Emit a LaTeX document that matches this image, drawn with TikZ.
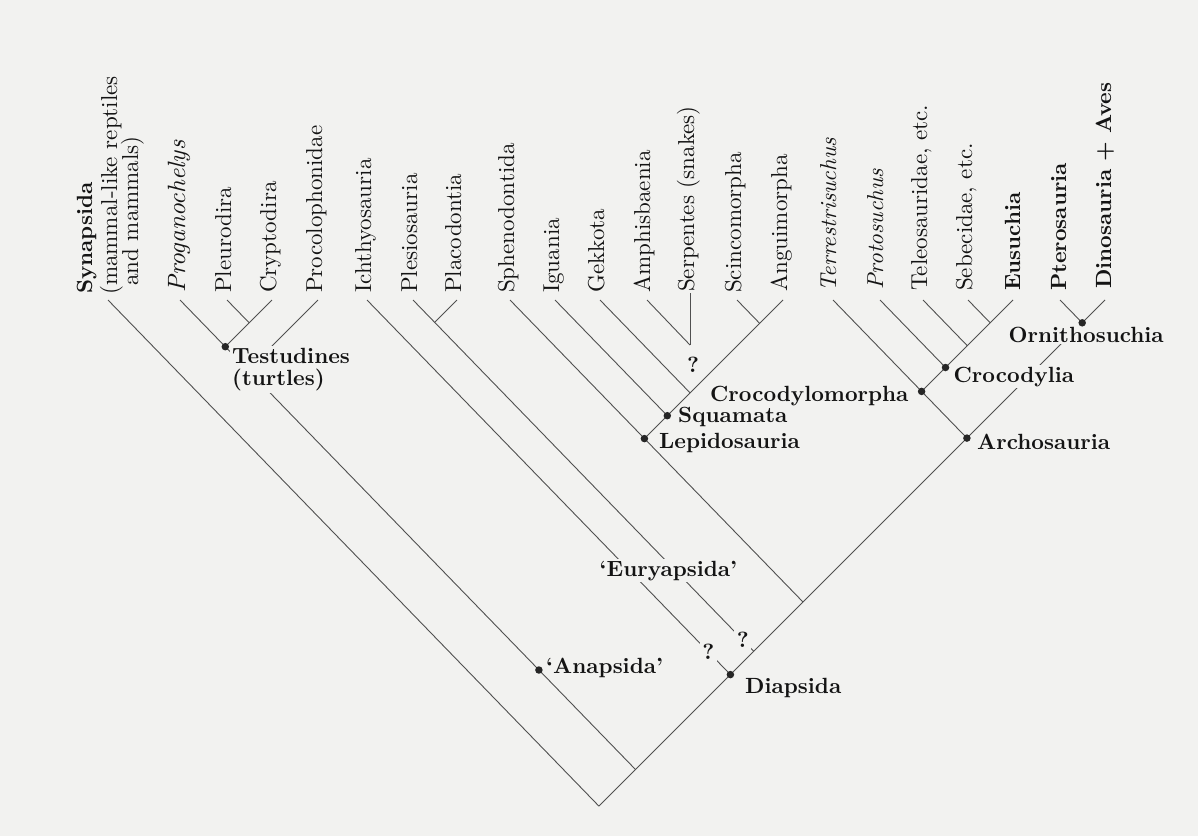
\documentclass[tikz,border=0pt]{standalone}
\usepackage{fontspec}
\setmainfont{lmroman10}[Extension=.otf, UprightFont=*-regular, BoldFont=*-bold, ItalicFont=*-italic, BoldItalicFont=*-bolditalic]
\definecolor{bg}{RGB}{242,242,240}
\definecolor{ln}{RGB}{80,80,80}
\definecolor{tx}{RGB}{20,20,20}
\tikzset{
  edge/.style={draw=ln, line width=0.9pt},
  tiplab/.style={rotate=90, anchor=base west, inner sep=0pt, text=tx, font=\fontsize{23}{25}\selectfont},
  tipbold/.style={tiplab, font=\fontsize{22}{24}\selectfont\bfseries},
  tipital/.style={tiplab, font=\fontsize{23}{25}\selectfont\itshape},
  clab/.style={anchor=base west, inner sep=0pt, text=tx, font=\fontsize{22}{22}\selectfont\bfseries},
  clabfill/.style={clab, fill=bg, inner sep=1.5pt},
  qmark/.style={text=tx, font=\fontsize{22}{22}\selectfont\bfseries, fill=bg, inner sep=2.5pt},
  cdot/.style={circle, fill=black!85, inner sep=0pt, minimum size=7.5pt}
}
\begin{document}
\begin{tikzpicture}[x=1pt,y=-1pt]
\fill[bg] (0,0) rectangle (1198,836);
\useasboundingbox (0,0) rectangle (1198,836);

% tips (line tops)
\coordinate (tSyn) at (108,300);
\coordinate (tProg) at (180,300);
\coordinate (tPleu) at (227,300);
\coordinate (tCryp) at (272,300);
\coordinate (tProc) at (318,300);
\coordinate (tIch) at (367,300);
\coordinate (tPle) at (413,300);
\coordinate (tPla) at (457,300);
\coordinate (tSph) at (510,300);
\coordinate (tIgu) at (555,300);
\coordinate (tGek) at (600,300);
\coordinate (tAmp) at (647,300);
\coordinate (tSer) at (690,293);
\coordinate (tSci) at (737,300);
\coordinate (tAng) at (783,300);
\coordinate (tTer) at (833,300);
\coordinate (tPro) at (880,300);
\coordinate (tTel) at (923,300);
\coordinate (tSeb) at (968,300);
\coordinate (tEus) at (1013,300);
\coordinate (tPte) at (1060,300);
\coordinate (tDin) at (1105,300);

% internal nodes
\coordinate (nPC) at (249.2,322.8);
\coordinate (nTes) at (225.3,346.7);
\coordinate (nAna) at (247.95,370.05);
\coordinate (nAnaDot) at (538.9,670);
\coordinate (nPP) at (434.7,322.3);
\coordinate (nSer) at (690,345);
\coordinate (nSA) at (759.65,323.35);
\coordinate (nGA) at (690.1,392.9);
\coordinate (nSqu) at (667.3,415.7);
\coordinate (nLep) at (644.4,438.6);
\coordinate (nCA) at (990.2,322.8);
\coordinate (nCB) at (967.3,345.7);
\coordinate (nCroc) at (945.5,367.5);
\coordinate (nCmo) at (921.6,391.4);
\coordinate (nOrn) at (1082.2,322.8);
\coordinate (nArc) at (966.9,438.1);
\coordinate (nLA) at (803.0,602.0);
\coordinate (nPleJ) at (753.7,651.3);
\coordinate (nDia) at (730.4,674.6);
\coordinate (nRep) at (635.5,769.5);
\coordinate (nRoot) at (598.9,806.1);

% connectors
\draw[edge] (tSyn) -- (nRoot);
\draw[edge] (tProg) -- (nRep);
\draw[edge] (tPleu) -- (nPC);
\draw[edge] (tCryp) -- (nTes);
\draw[edge] (tProc) -- (nAna);
\draw[edge] (tIch) -- (nDia);
\draw[edge] (tPle) -- (nPleJ);
\draw[edge] (tPla) -- (nPP);
\draw[edge] (tSph) -- (nLA);
\draw[edge] (tIgu) -- (nSqu);
\draw[edge] (tGek) -- (nGA);
\draw[edge] (tAmp) -- (nSer);
\draw[edge] (tSer) -- (nSer);
\draw[edge] (tSci) -- (nSA);
\draw[edge] (tAng) -- (nLep);
\draw[edge] (tTer) -- (nArc);
\draw[edge] (tPro) -- (nCroc);
\draw[edge] (tTel) -- (nCB);
\draw[edge] (tSeb) -- (nCA);
\draw[edge] (tEus) -- (nCmo);
\draw[edge] (tPte) -- (nOrn);
\draw[edge] (tDin) -- (nRoot);

% tip labels
\node[tipbold] (lSyn1) at (92,294) {Synapsida};
\node[tiplab] (lSyn2) at (117,295) {(mammal-like reptiles};
\node[tiplab] (lSyn3) at (138,286) {and mammals)};
\node[tipital, font=\fontsize{25}{27}\selectfont\itshape] (lProg) at (185,293) {Proganochelys};
\node[tiplab] (lPleu) at (231,293) {Pleurodira};
\node[tiplab] (lCryp) at (276,293) {Cryptodira};
\node[tiplab] (lProc) at (322,293) {Procolophonidae};
\node[tiplab] (lIch) at (371,293) {Ichthyosauria};
\node[tiplab] (lPle) at (417,293) {Plesiosauria};
\node[tiplab] (lPla) at (461,293) {Placodontia};
\node[tiplab] (lSph) at (514,293) {Sphenodontida};
\node[tiplab] (lIgu) at (559,293) {Iguania};
\node[tiplab] (lGek) at (604,293) {Gekkota};
\node[tiplab] (lAmp) at (650,293) {Amphisbaenia};
\node[tiplab] (lSer) at (694,292) {Serpentes (snakes)};
\node[tiplab] (lSci) at (741,293) {Scincomorpha};
\node[tiplab] (lAng) at (787,292) {Anguimorpha};
\node[tipital] (lTer) at (836,292) {Terrestrisuchus};
\node[tipital] (lPro) at (883,290) {Protosuchus};
\node[tiplab] (lTel) at (927,291) {Teleosauridae, etc.};
\node[tiplab] (lSeb) at (972,291) {Sebecidae, etc.};
\node[tipbold] (lEus) at (1020,291) {Eusuchia};
\node[tipbold] (lPte) at (1066,291) {Pterosauria};
\node[tipbold] (lDin) at (1111,289) {Dinosauria + Aves};

% clade labels
\node[clab, fill=bg, inner sep=2pt, anchor=north west, align=left] (lTes) at (230,346) {Testudines\\(turtles)};
\node[clab] (lAna) at (546,673) {‘Anapsida’};
\node[clabfill] (lEur) at (598,576) {‘Euryapsida’};
\node[clab] (lDia) at (745,693) {Diapsida};
\node[clab] (lLep) at (659,448) {Lepidosauria};
\node[clab] (lSqu) at (678,422) {Squamata};
\node[clab] (lCmo) at (710,401) {Crocodylomorpha};
\node[clabfill] (lCroc) at (952,382) {Crocodylia};
\node[clabfill] (lOrn) at (1007,342) {Ornithosuchia};
\node[clab] (lArc) at (977,449) {Archosauria};

% question marks
\node[qmark] (q1) at (693,365) {?};
\node[qmark] (q2) at (708.4,652) {?};
\node[qmark] (q3) at (742.8,640) {?};

% dots
\node[cdot] (dTes) at (nTes) {};
\node[cdot] (dAna) at (nAnaDot) {};
\node[cdot] (dDia) at (nDia) {};
\node[cdot] (dLep) at (nLep) {};
\node[cdot] (dSqu) at (nSqu) {};
\node[cdot] (dCmo) at (nCmo) {};
\node[cdot] (dCroc) at (nCroc) {};
\node[cdot] (dArc) at (nArc) {};
\node[cdot] (dOrn) at (nOrn) {};
\end{tikzpicture}
\end{document}
